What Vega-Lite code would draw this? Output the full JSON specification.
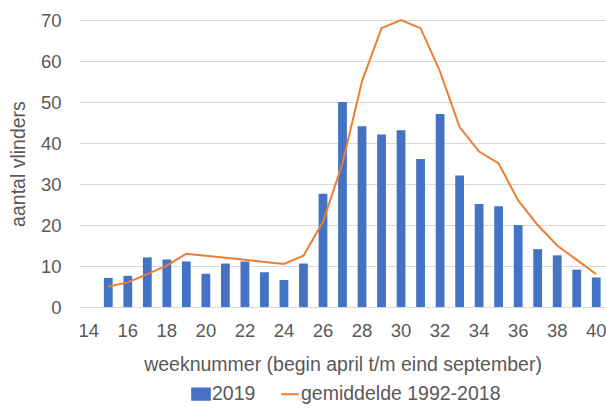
{
  "$schema": "https://vega.github.io/schema/vega-lite/v6.json",
  "width": 527,
  "height": 287,
  "autosize": "none",
  "padding": {"left": 79, "top": 20, "right": 0, "bottom": 101},
  "background": "white",
  "config": {
    "view": {"stroke": null},
    "font": "Liberation Sans",
    "axis": {"labelFont": "Liberation Sans", "titleFont": "Liberation Sans", "labelColor": "#595959", "titleColor": "#595959", "labelFontSize": 18.5, "titleFontSize": 19.5, "titleFontWeight": "normal"},
    "legend": {"labelFont": "Liberation Sans", "labelColor": "#595959", "labelFontSize": 19.5, "labelLimit": 0}
  },
  "data": {
    "values": [
      {"week": 15, "n2019": 7.1, "avg": 5.0},
      {"week": 16, "n2019": 7.6, "avg": 6.0},
      {"week": 17, "n2019": 12.1, "avg": 8.0},
      {"week": 18, "n2019": 11.6, "avg": 10.1},
      {"week": 19, "n2019": 11.1, "avg": 13.0},
      {"week": 20, "n2019": 8.1, "avg": 12.5},
      {"week": 21, "n2019": 10.6, "avg": 12.0},
      {"week": 22, "n2019": 11.1, "avg": 11.5},
      {"week": 23, "n2019": 8.5, "avg": 11.0},
      {"week": 24, "n2019": 6.6, "avg": 10.5},
      {"week": 25, "n2019": 10.6, "avg": 12.5},
      {"week": 26, "n2019": 27.6, "avg": 20.8},
      {"week": 27, "n2019": 50.0, "avg": 35.0},
      {"week": 28, "n2019": 44.1, "avg": 55.1},
      {"week": 29, "n2019": 42.1, "avg": 68.0},
      {"week": 30, "n2019": 43.1, "avg": 70.0},
      {"week": 31, "n2019": 36.1, "avg": 68.0},
      {"week": 32, "n2019": 47.1, "avg": 57.4},
      {"week": 33, "n2019": 32.1, "avg": 43.9},
      {"week": 34, "n2019": 25.1, "avg": 37.9},
      {"week": 35, "n2019": 24.6, "avg": 35.0},
      {"week": 36, "n2019": 20.0, "avg": 26.0},
      {"week": 37, "n2019": 14.1, "avg": 20.0},
      {"week": 38, "n2019": 12.6, "avg": 15.0},
      {"week": 39, "n2019": 9.1, "avg": 11.5},
      {"week": 40, "n2019": 7.2, "avg": 8.0}
    ]
  },
  "encoding": {
    "x": {
      "field": "week",
      "type": "ordinal",
      "scale": {"domain": [14,15,16,17,18,19,20,21,22,23,24,25,26,27,28,29,30,31,32,33,34,35,36,37,38,39,40], "paddingInner": 0.55, "paddingOuter": 0.275},
      "axis": {
        "title": "weeknummer (begin april t/m eind september)",
        "labelAngle": 0,
        "labelExpr": "datum.value % 2 === 0 ? datum.label : ''",
        "domain": false,
        "ticks": false,
        "grid": false,
        "labelPadding": 14,
        "titlePadding": 16
      }
    }
  },
  "layer": [
    {
      "mark": {"type": "bar"},
      "encoding": {
        "y": {
          "field": "n2019",
          "type": "quantitative",
          "scale": {"domain": [0, 70], "nice": false},
          "axis": {
            "title": "aantal vlinders",
            "values": [0,10,20,30,40,50,60,70],
            "domain": false,
            "ticks": false,
            "gridColor": "#D9D9D9",
            "gridWidth": 1,
            "labelPadding": 18,
            "titlePadding": 12
          }
        },
        "color": {
          "datum": "2019",
          "scale": {"domain": ["2019", "gemiddelde 1992-2018"], "range": ["#4472C4", "#ED7D31"]},
          "legend": {
            "title": null,
            "orient": "none",
            "direction": "horizontal",
            "legendX": 112,
            "legendY": 364,
            "symbolSize": 310,
            "labelOffset": 1,
            "columnPadding": 21,
            "symbolStrokeWidth": 2,
            "encode": {
              "symbols": {
                "update": {
                  "shape": {"signal": "datum.value === '2019' ? 'M-1,-0.64H1V0.64H-1Z' : 'stroke'"},
                  "fill": {"signal": "datum.value === '2019' ? '#4472C4' : 'transparent'"},
                  "stroke": {"signal": "datum.value === '2019' ? 'transparent' : '#ED7D31'"},
                  "strokeWidth": {"value": 2},
                  "opacity": {"value": 1},
                  "fillOpacity": {"value": 1}
                }
              }
            }
          }
        }
      }
    },
    {
      "mark": {"type": "line", "strokeWidth": 2},
      "encoding": {
        "y": {"field": "avg", "type": "quantitative"},
        "color": {"datum": "gemiddelde 1992-2018"}
      }
    }
  ]
}
